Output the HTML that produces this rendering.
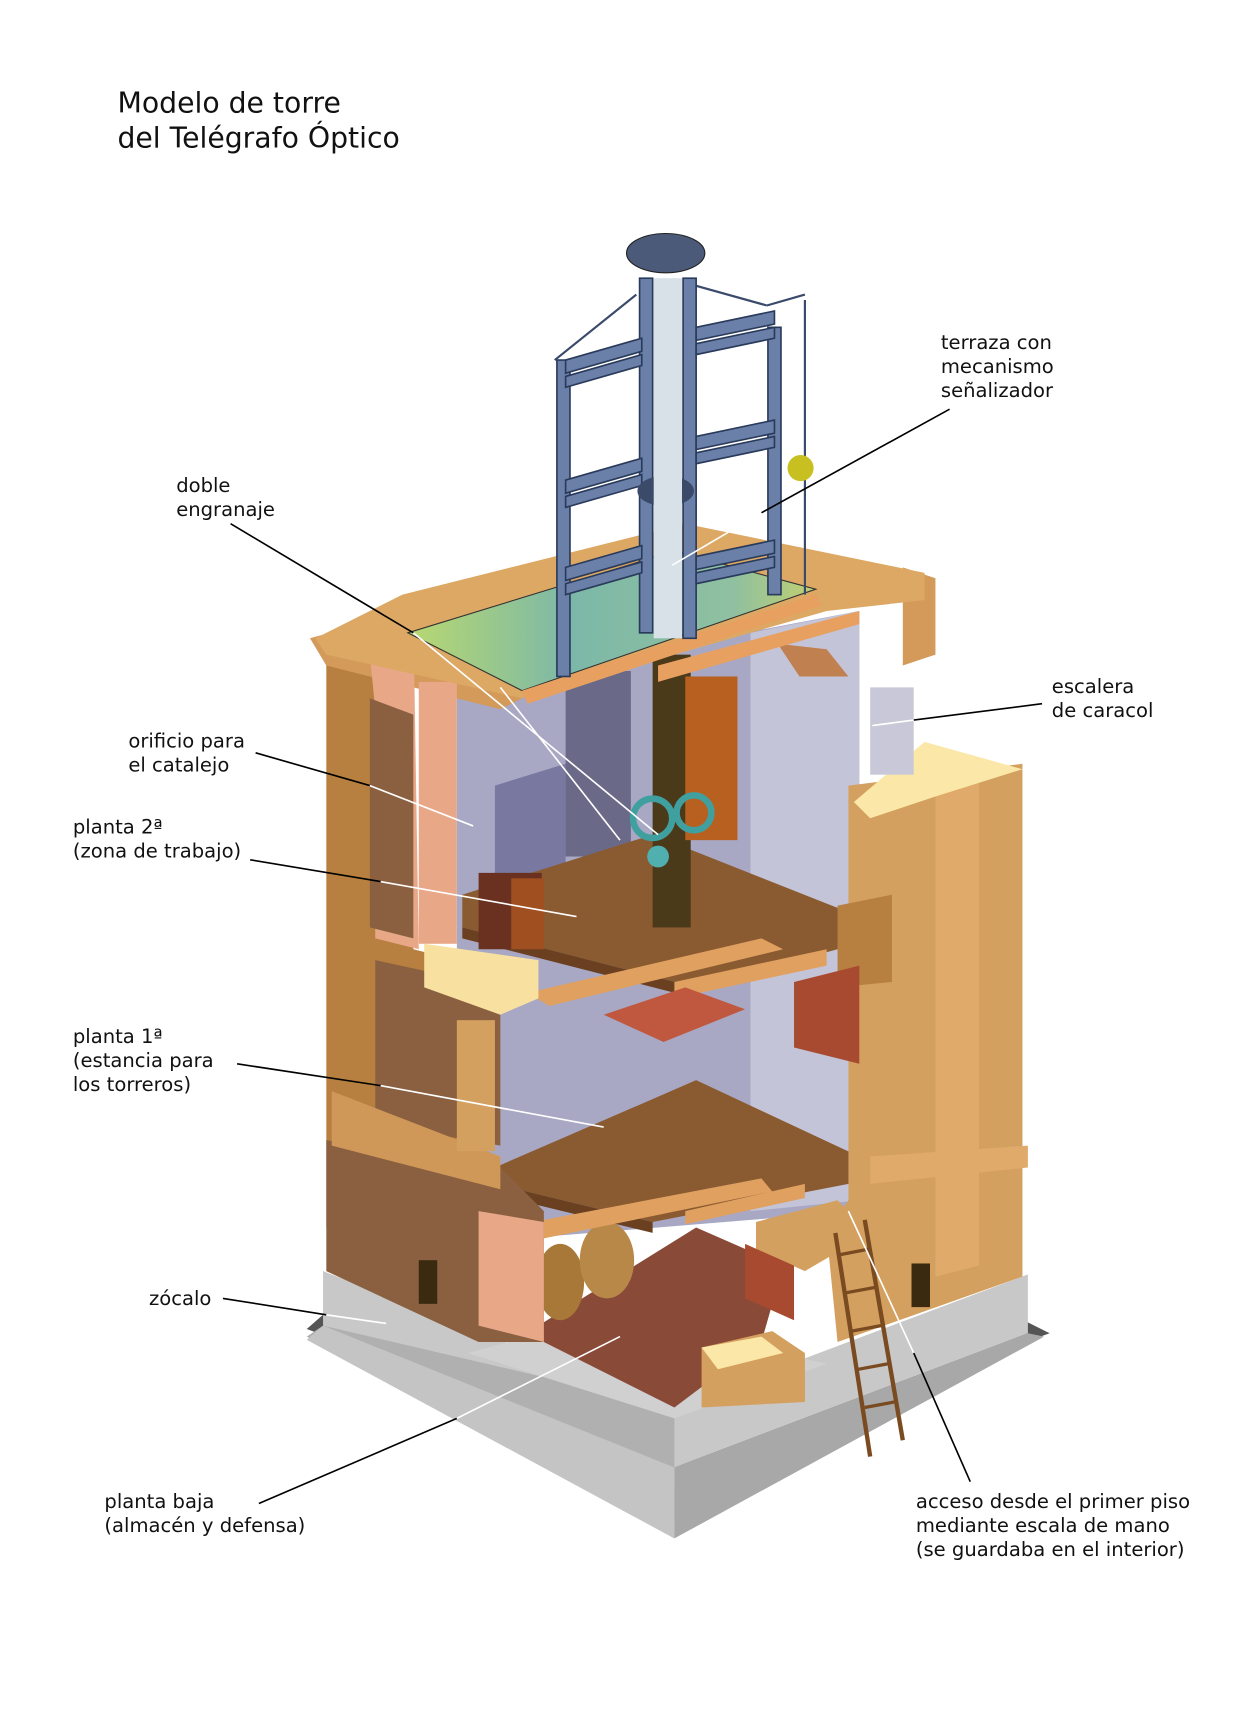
<!DOCTYPE html>
<html><head><meta charset="utf-8"><style>
html,body{margin:0;padding:0;background:#fff}
svg{display:block}
text{font-family:"DejaVu Sans","Liberation Sans",sans-serif;font-size:18px;fill:#111}
.t{font-size:26px}
</style></head><body>
<svg width="1240" height="1713" viewBox="0 0 1140 1570" preserveAspectRatio="none" xmlns="http://www.w3.org/2000/svg">
<defs>
<linearGradient id="ter" x1="0" y1="0" x2="1" y2="0"><stop offset="0" stop-color="#b8d870"/><stop offset="0.4" stop-color="#7cb8a8"/><stop offset="0.8" stop-color="#90c0a0"/><stop offset="1" stop-color="#c0d070"/></linearGradient>
</defs>
<text class="t" x="108" y="103">Modelo de torre</text>
<text class="t" x="108" y="135">del Telégrafo Óptico</text>

<!-- plinth -->
<polygon points="282,1218 620,1345 965,1222 945,1212 620,1330 297,1205" fill="#555"/>
<polygon points="297,1165 620,1290 945,1168 945,1222 620,1345 297,1215" fill="#c8c8c8"/>
<polygon points="620,1290 620,1410 282,1225 297,1215" fill="#b0b0b0"/>
<polygon points="620,1345 945,1222 960,1225 620,1410" fill="#a8a8a8"/>
<polygon points="620,1345 620,1410 282,1228 297,1215" fill="#c4c4c4"/>
<polygon points="430,1240 620,1300 760,1250 560,1205" fill="#d0d0d0"/>

<!-- back interior walls -->
<polygon points="420,630 790,560 790,1110 420,1140" fill="#a8a8c4"/>
<polygon points="690,580 790,560 790,1100 690,1110" fill="#c4c4d8"/>
<polygon points="455,720 520,700 520,850 455,860" fill="#7878a0"/>
<rect x="520" y="615" width="60" height="170" fill="#6a6a88"/>

<!-- ground floor brick -->
<polygon points="495,1215 640,1125 720,1160 700,1230 620,1290 500,1230" fill="#8a4a38"/>
<!-- barrels -->
<ellipse cx="515" cy="1175" rx="22" ry="35" fill="#a87838"/>
<ellipse cx="558" cy="1155" rx="25" ry="35" fill="#b88848"/>

<!-- floor 1 -->
<polygon points="455,1070 640,990 790,1060 780,1085 600,1120 455,1085" fill="#8a5a30"/>
<!-- floor 2 -->
<polygon points="425,820 600,765 790,840 770,870 640,905 425,850" fill="#8a5a30"/>
<polygon points="425,850 640,905 640,915 425,860" fill="#6a4020"/>
<polygon points="455,1085 600,1120 600,1130 455,1095" fill="#6a4020"/>

<!-- beams -->
<polygon points="485,910 700,860 720,870 505,922" fill="#e0a060"/>
<polygon points="620,900 760,870 760,885 620,915" fill="#e0a060"/>
<polygon points="490,1120 700,1080 710,1092 500,1135" fill="#e0a060"/>
<polygon points="630,1110 740,1085 740,1098 630,1122" fill="#e0a060"/>

<!-- table & furniture -->
<polygon points="555,930 630,905 685,925 610,955" fill="#c05840"/>
<rect x="440" y="800" width="58" height="70" fill="#6a3020"/>
<rect x="470" y="805" width="30" height="65" fill="#a05020"/>

<!-- central pole & gears -->
<rect x="600" y="600" width="35" height="250" fill="#4a3a1a"/>
<rect x="630" y="620" width="48" height="150" fill="#b86020"/>
<circle cx="600" cy="750" r="18" fill="none" stroke="#40a0a0" stroke-width="6"/>
<circle cx="638" cy="745" r="16" fill="none" stroke="#40a0a0" stroke-width="6"/>
<circle cx="605" cy="785" r="10" fill="#50b0b0"/>

<!-- left tower wall -->
<polygon points="300,595 380,620 380,870 420,880 420,1170 300,1125" fill="#b88040"/>
<polygon points="285,585 375,560 480,600 480,640 460,650 300,610" fill="#d49a5a"/>
<polygon points="360,560 380,565 385,870 345,860 345,650 340,600" fill="#e8a888"/>
<rect x="385" y="625" width="35" height="240" fill="#e8a888"/>
<polygon points="340,640 380,655 380,860 340,850" fill="#8a6040"/>
<polygon points="345,880 460,905 460,1050 345,1030" fill="#8a6040"/>
<polygon points="390,865 495,880 495,915 460,930 390,905" fill="#f8e0a0"/>
<polygon points="300,1045 460,1070 500,1110 500,1230 440,1230 300,1165" fill="#8a6040"/>
<polygon points="305,1000 460,1060 460,1090 305,1050" fill="#d09858"/>
<polygon points="440,1110 500,1120 500,1230 440,1215" fill="#e8a888"/>
<rect x="385" y="1155" width="17" height="40" fill="#3a2a10"/>
<rect x="420" y="935" width="35" height="120" fill="#d4a060"/>

<!-- right tower wall -->
<polygon points="780,720 940,700 940,1170 770,1230 760,1130 780,1100" fill="#d4a060"/>
<polygon points="860,705 900,700 900,1160 860,1170" fill="#e0aa6a"/>
<polygon points="785,735 850,680 940,705 860,730 800,750" fill="#fbe8a8"/>
<polygon points="770,830 820,820 820,900 770,905" fill="#b88040"/>
<polygon points="730,900 790,885 790,975 730,960" fill="#a84a30"/>
<polygon points="695,1120 770,1100 800,1130 740,1165 695,1145" fill="#d4a060"/>
<polygon points="685,1140 730,1160 730,1210 685,1190" fill="#a84a30"/>
<polygon points="645,1235 710,1220 740,1240 740,1285 645,1290" fill="#d4a060"/>
<polygon points="645,1235 700,1225 720,1240 660,1255" fill="#fbe8a8"/>
<rect x="838" y="1158" width="17" height="40" fill="#3a2a10"/>
<polygon points="800,1060 945,1050 945,1070 800,1085" fill="#e0aa6a"/>
<!-- stair cylinder -->
<rect x="800" y="630" width="40" height="80" fill="#c8c8d8"/>
<polygon points="830,520 860,530 860,600 830,610" fill="#d49a5a"/>
<polygon points="715,590 760,595 780,620 735,620" fill="#c08050"/>

<!-- ladder -->
<line x1="768" y1="1130" x2="800" y2="1335" stroke="#7a4a20" stroke-width="4"/>
<line x1="795" y1="1118" x2="830" y2="1320" stroke="#7a4a20" stroke-width="4"/>
<g stroke="#7a4a20" stroke-width="3">
<line x1="772" y1="1150" x2="798" y2="1145"/><line x1="777" y1="1185" x2="804" y2="1180"/><line x1="783" y1="1220" x2="810" y2="1215"/><line x1="789" y1="1255" x2="816" y2="1250"/><line x1="795" y1="1290" x2="822" y2="1285"/>
</g>

<!-- terrace -->
<polygon points="290,585 370,545 630,480 850,525 850,550 760,560 480,640 300,600" fill="#dca864"/>
<polygon points="375,580 620,505 750,540 480,633" fill="url(#ter)" stroke="#333"/>
<polygon points="480,633 750,545 755,555 485,645" fill="#e8a060"/>
<polygon points="605,610 790,560 790,572 605,625" fill="#e8a060"/>

<!-- semaphore -->
<g fill="none" stroke="#3a4a6a" stroke-width="2">
<line x1="510" y1="330" x2="585" y2="270"/><line x1="640" y1="262" x2="705" y2="280"/><line x1="705" y1="280" x2="740" y2="270"/><line x1="740" y1="275" x2="740" y2="545"/>
</g>
<g fill="#6a80a8" stroke="#2a3a5a" stroke-width="1.5">
<rect x="512" y="330" width="12" height="290"/><rect x="588" y="255" width="12" height="325"/><rect x="628" y="255" width="12" height="330"/><rect x="706" y="300" width="12" height="245"/>
<polygon points="520,330 590,310 590,322 520,342"/><polygon points="520,345 590,325 590,335 520,355"/>
<polygon points="520,440 590,420 590,432 520,452"/><polygon points="520,455 590,435 590,445 520,465"/>
<polygon points="520,520 590,500 590,512 520,532"/><polygon points="520,535 590,515 590,525 520,545"/>
<polygon points="640,300 712,285 712,297 640,312"/><polygon points="640,315 712,300 712,310 640,325"/>
<polygon points="640,400 712,385 712,397 640,412"/><polygon points="640,415 712,400 712,410 640,425"/>
<polygon points="640,510 712,495 712,507 640,522"/><polygon points="640,525 712,510 712,520 640,535"/>
</g>
<ellipse cx="612" cy="232" rx="36" ry="18" fill="#4a5a78" stroke="#222"/>
<ellipse cx="612" cy="450" rx="26" ry="14" fill="#3a4a68"/>
<rect x="601" y="255" width="26" height="330" fill="#d8e0e8"/>
<circle cx="736" cy="429" r="12" fill="#c8c020"/>

<!-- leader lines -->
<g stroke="#000" stroke-width="1.5" fill="none">
<line x1="873" y1="375" x2="700" y2="470"/>
<line x1="212" y1="480" x2="380" y2="580"/>
<line x1="958" y1="645" x2="840" y2="660"/>
<line x1="235" y1="690" x2="340" y2="720"/>
<line x1="230" y1="788" x2="350" y2="808"/>
<line x1="218" y1="975" x2="350" y2="995"/>
<line x1="205" y1="1190" x2="300" y2="1205"/>
<line x1="238" y1="1378" x2="420" y2="1300"/>
<line x1="892" y1="1358" x2="840" y2="1240"/>
</g>
<g stroke="#fff" stroke-width="1.5" fill="none">
<line x1="700" y1="470" x2="618" y2="518"/>
<line x1="380" y1="580" x2="605" y2="765"/>
<line x1="840" y1="660" x2="802" y2="665"/>
<line x1="340" y1="720" x2="435" y2="757"/>
<line x1="350" y1="808" x2="530" y2="840"/>
<line x1="350" y1="995" x2="555" y2="1033"/>
<line x1="300" y1="1205" x2="355" y2="1213"/>
<line x1="420" y1="1300" x2="570" y2="1225"/>
<line x1="840" y1="1240" x2="780" y2="1110"/>
<line x1="460" y1="630" x2="570" y2="770"/>
</g>

<text x="865" y="320">terraza con</text><text x="865" y="342">mecanismo</text><text x="865" y="364">señalizador</text>
<text x="162" y="451">doble</text><text x="162" y="473">engranaje</text>
<text x="967" y="635">escalera</text><text x="967" y="657">de caracol</text>
<text x="118" y="685">orificio para</text><text x="118" y="707">el catalejo</text>
<text x="67" y="764">planta 2ª</text><text x="67" y="786">(zona de trabajo)</text>
<text x="67" y="956">planta 1ª</text><text x="67" y="978">(estancia para</text><text x="67" y="1000">los torreros)</text>
<text x="137" y="1196">zócalo</text>
<text x="96" y="1382">planta baja</text><text x="96" y="1404">(almacén y defensa)</text>
<text x="842" y="1382">acceso desde el primer piso</text><text x="842" y="1404">mediante escala de mano</text><text x="842" y="1426">(se guardaba en el interior)</text>
</svg>
</body></html>
